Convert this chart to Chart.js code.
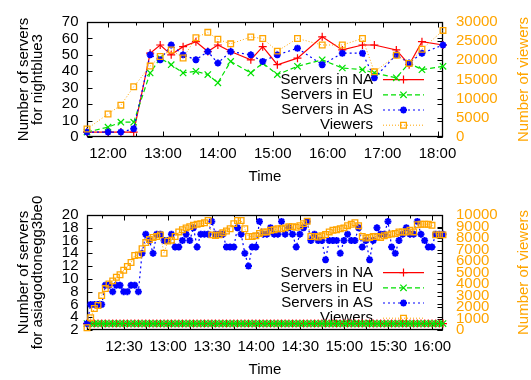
<!DOCTYPE html>
<html>
<head>
<meta charset="utf-8">
<script src="https://cdn.jsdelivr.net/npm/chart.js@4.4.1/dist/chart.umd.min.js"></script>
<style>
  html, body { margin: 0; padding: 0; background: #fff; }
  #wrap { position: relative; width: 531px; height: 380px; overflow: hidden; }
  canvas { position: absolute; left: 0; }
</style>
</head>
<body>
<div id="wrap">
  <canvas id="top" width="531" height="190" style="top:0px"></canvas>
  <canvas id="bottom" width="531" height="190" style="top:193px"></canvas>
</div>
<script>
// ---- nightblue3 ----
const nbTimes = ['11:37','12:00','12:14','12:28','12:46','12:57','13:09','13:22','13:36','13:49','14:00','14:14',
                 '14:36','14:49','15:05','15:27','15:54','16:16','16:38','16:51','17:15','17:29','17:43','18:06'];
const nbNA = [3,3,3,3,51,56,50,55,58,52,56,52,47,55,44,48,61,53,56,56,53,44,58,56];
const nbEU = [3,6,9,9,39,48,44,39,40,38,33,46,39,45,38,43,47,42,41,39,36,45,41,43];
const nbAS = [3,3,3,5,50,47,56,50,47,52,45,52,50,46,50,54,44,51,51,36,50,45,51,56];
const nbViewers = [2100,6000,8300,13100,18500,21000,22700,20600,25900,27300,25500,24300,
                   26100,25700,22400,25700,24000,24000,25700,17000,21300,19200,22900,27800];
const nbMajorTicks = ['12:00','13:00','14:00','15:00','16:00','17:00','18:00'];
const nbMinorTicks = ['12:30','13:30','14:30','15:30','16:30','17:30'];

// ---- asiagodtonegg3be0 ----
const agTimes = [
  '12:04:45','12:07:15','12:09:45','12:12:15','12:14:45','12:17:15','12:19:45','12:22:15','12:24:45','12:27:15',
  '12:29:45','12:32:15','12:34:45','12:37:15','12:39:45','12:42:15','12:44:45','12:47:15','12:49:45','12:52:15',
  '12:54:45','12:57:15','12:59:45','13:02:15','13:04:45','13:07:15','13:09:45','13:12:15','13:14:45','13:17:15',
  '13:19:45','13:22:15','13:24:45','13:27:15','13:29:45','13:32:15','13:34:45','13:37:15','13:39:45','13:42:15',
  '13:44:45','13:47:15','13:49:45','13:52:15','13:54:45','13:57:15','13:59:45','14:02:15','14:04:45','14:07:15',
  '14:09:45','14:12:15','14:14:45','14:17:15','14:19:45','14:22:15','14:24:45','14:27:15','14:29:45','14:32:15',
  '14:34:45','14:37:15','14:39:45','14:42:15','14:44:45','14:47:15','14:49:45','14:52:15','14:54:45','14:57:15',
  '14:59:45','15:02:15','15:04:45','15:07:15','15:09:45','15:12:15','15:14:45','15:17:15','15:19:45','15:22:15',
  '15:24:45','15:27:15','15:29:45','15:32:15','15:34:45','15:37:15','15:39:45','15:42:15','15:44:45','15:47:15',
  '15:49:45','15:52:15','15:54:45','15:57:15','15:59:45','16:02:15','16:04:45','16:07:15'];
const agNA = [
  3,3,3,3,3,3,3,3,3,3, 3,3,3,3,3,3,3,3,3,3, 3,3,3,3,3,3,3,3,3,3, 3,3,3,3,3,3,3,3,3,3,
  3,3,3,3,3,3,3,3,3,3, 3,3,3,3,3,3,3,3,3,3, 3,3,3,3,3,3,3,3,3,3, 3,3,3,3,3,3,3,3,3,3,
  3,3,3,3,3,3,3,3,3,3, 3,3,3,3,3,3,3,3];
const agEU = [
  3,3,3,3,3,3,3,3,3,3, 3,3,3,3,3,3,3,3,3,3, 3,3,3,3,3,3,3,3,3,3, 3,3,3,3,3,3,3,3,3,3,
  3,3,3,3,3,3,3,3,3,3, 3,3,3,3,3,3,3,3,3,3, 3,3,3,3,3,3,3,3,3,3, 3,3,3,3,3,3,3,3,3,3,
  3,3,3,3,3,3,3,3,3,3, 3,3,3,3,3,3,3,3];
const agAS = [
  3,6,6,6,6,9,9,8,9,9, 8,8,9,9,8,14,17,16,14,17, 17,16,16,17,15,15,16,17,16,18,
  15,17,17,17,19,17,17,17,15,15, 15,18,17,14,12,15,15,19,17,17, 18,17,17,19,17,18,17,15,17,18,
  19,16,17,16,16,13,16,16,16,14, 16,17,16,16,18,15,16,13,16,18, 17,17,19,15,14,16,17,18,17,17,
  19,17,16,15,15,17,17,17];
const agViewers = [
  200,1070,1870,2130,2990,3600,4000,4270,4590,4800, 5200,5520,5870,6480,6530,7070,7600,7870,8050,8130,
  8270,6670,7730,7810,8130,8530,8720,8880,8990,9120, 9200,9250,9330,9520,8270,8210,8270,8450,8610,8800,
  9250,9520,9520,8800,8130,8130,8190,8400,8530,8530, 8670,8720,8800,8800,8880,8990,8990,8930,9070,9250,
  9450,8130,8130,8080,8190,8300,8530,8670,8720,8800, 8880,9070,9200,9330,9070,8130,8000,8050,8130,8130,
  8050,8190,8270,8350,8400,8530,8530,8530,8670,8530, 9150,9200,9200,9200,9100,8270,8270,8270];
const agMajorTicks = ['12:30','13:00','13:30','14:00','14:30','15:00','15:30','16:00'];
const agMinorTicks = ['12:15','12:45','13:15','13:45','14:15','14:45','15:15','15:45'];

const FONT = '"Liberation Sans", Arial, Helvetica, sans-serif';
const ORANGE = '#ffa500';
Chart.defaults.font.family = FONT;
Chart.defaults.font.size = 15;
Chart.defaults.color = '#000';

function toMin(t) {
  const p = t.split(':').map(Number);
  return p[0] * 60 + p[1] + (p[2] || 0) / 60;
}
function fmt(m) {
  const h = Math.floor(m / 60), mm = Math.round(m - h * 60);
  return h + ':' + String(mm).padStart(2, '0');
}

const seriesStyle = {
  na: { label: 'Servers in NA', borderColor: '#ff0000', borderWidth: 1.2, borderDash: [],
        pointStyle: 'cross', pointRadius: 4, pointBorderWidth: 1.2, order: 4 },
  eu: { label: 'Servers in EU', borderColor: '#00e000', borderWidth: 1.2, borderDash: [5, 3],
        pointStyle: 'crossRot', pointRadius: 4.5, pointBorderWidth: 1.2, order: 3 },
  as: { label: 'Servers in AS', borderColor: '#0000ff', borderWidth: 1.2, borderDash: [2, 3],
        pointStyle: 'star', pointRadius: 3.5, pointBorderWidth: 2, order: 2 },
  vw: { label: 'Viewers', borderColor: ORANGE, borderWidth: 1, borderDash: [1, 2],
        pointStyle: 'rect', pointRadius: 4, pointBorderWidth: 1.3, order: 1, yAxisID: 'y2' }
};

function dataset(key, times, values) {
  const s = seriesStyle[key];
  return Object.assign({
    data: times.map((t, i) => ({ x: toMin(t), y: values[i] })),
    backgroundColor: 'rgba(0,0,0,0)',
    pointBackgroundColor: 'rgba(0,0,0,0)',
    fill: false, tension: 0, clip: false, yAxisID: 'y'
  }, s);
}

function drawMarker(ctx, style, radius, bw, x, y) {
  if (Chart.helpers && Chart.helpers.drawPoint) {
    Chart.helpers.drawPoint(ctx, { pointStyle: style, radius: radius, rotation: 0, borderWidth: bw }, x, y);
  }
}

function makeChart(id, cfg) {
  const majors = cfg.major.map(toMin);
  const xTicks = cfg.major.concat(cfg.minor).map(toMin).sort((a, b) => a - b);

  // border, inward tick marks, key and the two rotated axis titles
  const decor = {
    id: 'decor',
    beforeDatasetsDraw(chart) {
      const { ctx, chartArea: a, scales } = chart;
      const L = a.left + 0.5, R = a.right - 0.5, T = a.top + 0.5, B = a.bottom - 0.5;
      ctx.save();
      ctx.strokeStyle = '#000';
      ctx.lineWidth = 1;
      ctx.beginPath();
      scales.x.ticks.forEach(t => {
        const p = Math.round(scales.x.getPixelForValue(t.value)) + 0.5;
        const len = majors.includes(t.value) ? 5 : 3;
        ctx.moveTo(p, B); ctx.lineTo(p, B - len);
        ctx.moveTo(p, T); ctx.lineTo(p, T + len);
      });
      scales.y.ticks.forEach(t => {
        const p = Math.round(scales.y.getPixelForValue(t.value)) + 0.5;
        ctx.moveTo(L, p); ctx.lineTo(L + 5, p);
        ctx.moveTo(R, p); ctx.lineTo(R - 5, p);
      });
      scales.y2.ticks.forEach(t => {
        const p = Math.round(scales.y2.getPixelForValue(t.value)) + 0.5;
        ctx.moveTo(R, p); ctx.lineTo(R - 5, p);
      });
      ctx.stroke();
      ctx.lineWidth = 1.3;
      ctx.strokeRect(L, T, R - L, B - T);

      // key
      const ds = chart.data.datasets;
      ctx.font = '15px ' + FONT;
      ds.forEach((d, i) => {
        const yy = a.bottom - 11.8 - 15.2 * (ds.length - 1 - i);
        ctx.fillStyle = '#000';
        ctx.textAlign = 'right';
        ctx.textBaseline = 'middle';
        ctx.fillText(d.label, 373, yy);
        ctx.strokeStyle = d.borderColor;
        ctx.lineWidth = d.borderWidth;
        ctx.setLineDash(d.borderDash);
        ctx.beginPath(); ctx.moveTo(383, yy); ctx.lineTo(424, yy); ctx.stroke();
        ctx.setLineDash([]);
        ctx.lineWidth = d.pointBorderWidth;
        ctx.fillStyle = 'rgba(0,0,0,0)';
        drawMarker(ctx, d.pointStyle, d.pointRadius, d.pointBorderWidth, 403.5, yy);
      });

      // axis titles
      const cy = (a.top + a.bottom) / 2;
      ctx.textAlign = 'center';
      ctx.textBaseline = 'middle';
      ctx.fillStyle = '#000';
      cfg.leftTitle.forEach((line, i) => {
        ctx.save();
        ctx.translate(24 + 14 * i, cy);
        ctx.rotate(-Math.PI / 2);
        ctx.fillText(line, 0, 0);
        ctx.restore();
      });
      ctx.fillStyle = ORANGE;
      ctx.save();
      ctx.translate(524, cy);
      ctx.rotate(-Math.PI / 2);
      ctx.fillText('Number of viewers', 0, 0);
      ctx.restore();
      ctx.restore();
    }
  };

  const times = cfg.times;
  return new Chart(document.getElementById(id), {
    type: 'line',
    data: {
      datasets: [
        dataset('na', times, cfg.na),
        dataset('eu', times, cfg.eu),
        dataset('as', times, cfg.as),
        dataset('vw', times, cfg.viewers)
      ]
    },
    options: {
      responsive: false,
      devicePixelRatio: 1,
      animation: false,
      events: [],
      layout: { padding: { top: 12, left: 0, right: 0, bottom: 0 } },
      plugins: { legend: { display: false }, tooltip: { enabled: false } },
      scales: {
        x: {
          type: 'linear',
          min: toMin(times[0]),
          max: toMin(times[times.length - 1]),
          afterBuildTicks: s => { s.ticks = xTicks.map(v => ({ value: v })); },
          afterFit: s => { s.height = 53; },
          ticks: { autoSkip: false, maxRotation: 0, padding: 8,
                   callback: v => majors.includes(v) ? fmt(v) : '' },
          grid: { display: false, drawTicks: false },
          border: { display: false },
          title: { display: true, text: 'Time', padding: { top: 0, bottom: 4.5 } }
        },
        y: {
          position: 'left',
          min: cfg.yMin, max: cfg.yMax,
          afterFit: s => { s.width = 87; },
          ticks: { stepSize: cfg.yStep, autoSkip: false, padding: 8.5, callback: v => String(v) },
          grid: { display: false, drawTicks: false },
          border: { display: false }
        },
        y2: {
          position: 'right',
          min: 0, max: cfg.y2Max,
          afterFit: s => { s.width = 88; },
          ticks: { stepSize: cfg.y2Step, autoSkip: false, padding: 13, color: ORANGE,
                   callback: v => String(v) },
          grid: { display: false, drawTicks: false },
          border: { display: false }
        }
      }
    },
    plugins: [decor]
  });
}

makeChart('top', {
  times: nbTimes, na: nbNA, eu: nbEU, as: nbAS, viewers: nbViewers,
  major: nbMajorTicks, minor: nbMinorTicks,
  yMin: 0, yMax: 70, yStep: 10, y2Max: 30000, y2Step: 5000,
  leftTitle: ['Number of servers', 'for nightblue3']
});

makeChart('bottom', {
  times: agTimes, na: agNA, eu: agEU, as: agAS, viewers: agViewers,
  major: agMajorTicks, minor: agMinorTicks,
  yMin: 2, yMax: 20, yStep: 2, y2Max: 10000, y2Step: 1000,
  leftTitle: ['Number of servers', 'for asiagodtonegg3be0']
});
</script>
</body>
</html>
